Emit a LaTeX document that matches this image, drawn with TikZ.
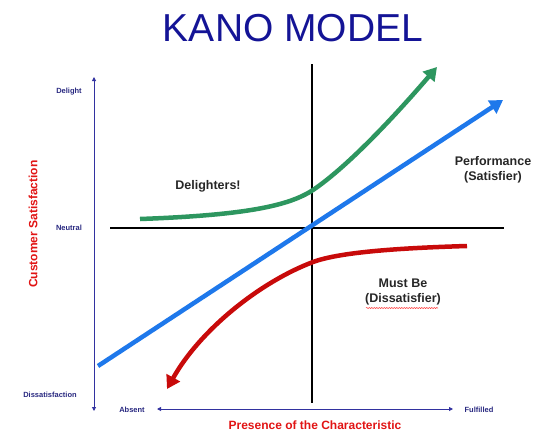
\documentclass[tikz,border=0pt]{standalone}
\usepackage{fontspec}
\setmainfont{Liberation Sans}
\usetikzlibrary{arrows.meta,decorations.pathmorphing}
\definecolor{titleblue}{RGB}{20,20,150}
\definecolor{axisblue}{RGB}{50,50,160}
\definecolor{labred}{RGB}{225,20,20}
\definecolor{perfblue}{RGB}{30,120,235}
\definecolor{delgreen}{RGB}{45,150,95}
\definecolor{mustred}{RGB}{200,10,10}
\tikzset{
  axisline/.style={draw=axisblue, line width=0.9pt, {Triangle[length=4pt,width=4pt]}-{Triangle[length=4pt,width=4pt]}},
  crossline/.style={draw=black, line width=2pt},
  curveline/.style={line width=4.5pt, -{Triangle[length=13pt,width=15pt]}},
  ticklabel/.style={font=\fontsize{7.5}{8}\selectfont\bfseries, text=axisblue!80!black},
  axistitle/.style={font=\fontsize{12}{13}\selectfont\bfseries, text=labred},
  curvelabel/.style={font=\fontsize{12.5}{15}\selectfont\bfseries, text=black!85, align=center}
}
\begin{document}
\begin{tikzpicture}[x=1pt,y=-1pt]
\useasboundingbox (0,0) rectangle (540,434);
% title
\node[font=\fontsize{39}{40}\selectfont, text=titleblue] (title) at (293,28) {KANO MODEL};
% axes
\coordinate (vtop) at (94,77);
\coordinate (vbot) at (94,411);
\draw[axisline] (vtop) -- (vbot);
\coordinate (hleft) at (157,409);
\coordinate (hright) at (453,409);
\draw[axisline] (hleft) -- (hright);
\node[ticklabel] (delight) at (69,92) {Delight};
\node[ticklabel] (neutral) at (69,228) {Neutral};
\node[ticklabel] (dissat) at (50,395) {Dissatisfaction};
\node[ticklabel] (absent) at (132,410) {Absent};
\node[ticklabel] (fulfilled) at (479,410) {Fulfilled};
\node[axistitle, rotate=90] (ysat) at (33,224) {Customer Satisfaction};
\node[axistitle] (xpres) at (315,425) {Presence of the Characteristic};
% cross
\coordinate (ctop) at (312,64);
\coordinate (cbot) at (312,403);
\coordinate (cleft) at (110,228);
\coordinate (cright) at (504,228);
\draw[crossline] (ctop) -- (cbot);
\draw[crossline] (cleft) -- (cright);
% performance
\coordinate (pstart) at (98,366);
\coordinate (pend) at (503,100);
\draw[curveline, draw=perfblue] (pstart) -- (pend);
% delighters
\coordinate (gstart) at (140,219);
\coordinate (gmid) at (313,190);
\coordinate (gend) at (437,67);
\draw[curveline, draw=delgreen] (gstart) .. controls (250,215) and (290,205) .. (gmid) .. controls (350,165) and (400,110) .. (gend);
% must be
\coordinate (rstart) at (467,246);
\coordinate (rmid) at (313,262);
\coordinate (rend) at (167,389);
\draw[curveline, draw=mustred] (rstart) .. controls (400,248) and (340,252) .. (rmid) .. controls (260,282) and (200,330) .. (rend);
% labels
\node[curvelabel] (deltxt) at (208,186) {Delighters!};
\node[curvelabel] (perftxt) at (493,170) {Performance\\(Satisfier)};
\node[curvelabel] (musttxt) at (403,292) {Must Be\\(Dissatisfier)};
\coordinate (wl) at (366,308);
\coordinate (wr) at (438,308);
\draw[red!80, line width=0.5pt, decorate, decoration={snake, amplitude=0.6pt, segment length=2.5pt}] (wl) -- (wr);
\end{tikzpicture}
\end{document}
